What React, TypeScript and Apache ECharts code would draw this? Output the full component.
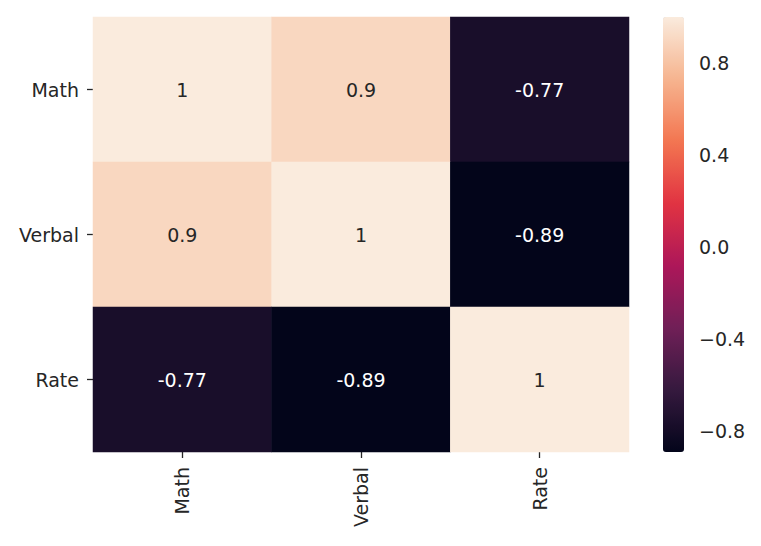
import React, { useEffect, useRef } from "react";
import * as echarts from "echarts";

const categories = ["Math", "Verbal", "Rate"];
const mathRow = [1, 0.9, -0.77];
const verbalRow = [0.9, 1, -0.89];
const rateRow = [-0.77, -0.89, 1];
const colorbarTicks = [-0.8, -0.4, 0.0, 0.4, 0.8];
const vMin = -0.89;
const vMax = 1;
const rocket = ["#03051a", "#35193e", "#701f57", "#ad1759", "#e13342", "#f37651", "#f6b48f", "#faebdd"];

export default function App() {
  const ref = useRef<HTMLDivElement>(null);
  useEffect(() => {
    if (!ref.current) return;
    const chart = echarts.init(ref.current, null, { renderer: "svg" });
    const rows = [mathRow, verbalRow, rateRow];
    const data: any[] = [];
    rows.forEach((row, yi) => {
      row.forEach((v, xi) => {
        data.push({
          value: [xi, yi, v],
          label: { color: v > 0 ? "#262626" : "#ffffff" },
        });
      });
    });
    const font = "DejaVu Sans";
    const fs = 19;
    const tickStyle = { color: "#262626", width: 1.3 };
    chart.setOption({
      animation: false,
      backgroundColor: "#ffffff",
      grid: [
        { left: 93, top: 17, width: 536, height: 435 },
        { left: 663, top: 17, width: 21, height: 435 },
      ],
      xAxis: [
        {
          type: "category",
          gridIndex: 0,
          data: categories,
          position: "bottom",
          axisLine: { show: false },
          axisTick: { show: true, alignWithLabel: true, length: 6, lineStyle: tickStyle },
          axisLabel: { rotate: 90, fontFamily: font, fontSize: fs, color: "#262626", margin: 15 },
          splitLine: { show: false },
        },
        { type: "value", gridIndex: 1, show: false, min: 0, max: 1 },
      ],
      yAxis: [
        {
          type: "category",
          gridIndex: 0,
          data: categories,
          inverse: true,
          axisLine: { show: false },
          axisTick: { show: true, alignWithLabel: true, length: 6, lineStyle: tickStyle },
          axisLabel: { fontFamily: font, fontSize: fs, color: "#262626", margin: 14 },
          splitLine: { show: false },
        },
        {
          type: "value",
          gridIndex: 1,
          position: "right",
          min: vMin,
          max: vMax,
          axisLine: { show: false },
          axisTick: { show: true, length: 6, customValues: colorbarTicks, lineStyle: tickStyle },
          axisLabel: {
            fontFamily: font,
            fontSize: fs,
            color: "#262626",
            margin: 15,
            customValues: colorbarTicks,
            formatter: (v: number) => {
              const s = Math.abs(v).toFixed(1);
              return v < -1e-9 ? "\u2212" + s : s;
            },
          },
          splitLine: { show: false },
        },
      ],
      visualMap: {
        type: "continuous",
        min: vMin,
        max: vMax,
        calculable: false,
        show: true,
        left: 663,
        top: 17,
        itemWidth: 21,
        itemHeight: 435,
        padding: 0,
        text: ["", ""],
        showLabel: false,
        hoverLink: false,
        seriesIndex: 0,
        inRange: { color: rocket },
      },
      series: [
        {
          type: "heatmap",
          xAxisIndex: 0,
          yAxisIndex: 0,
          data,
          label: {
            show: true,
            fontFamily: font,
            fontSize: fs,
            formatter: (p: any) => String(p.value[2]),
          },
          itemStyle: { borderWidth: 0 },
          emphasis: { disabled: true },
        },
      ],
    });
    return () => chart.dispose();
  }, []);
  return <div ref={ref} style={{ width: 761, height: 546, margin: -8 }} />;
}
